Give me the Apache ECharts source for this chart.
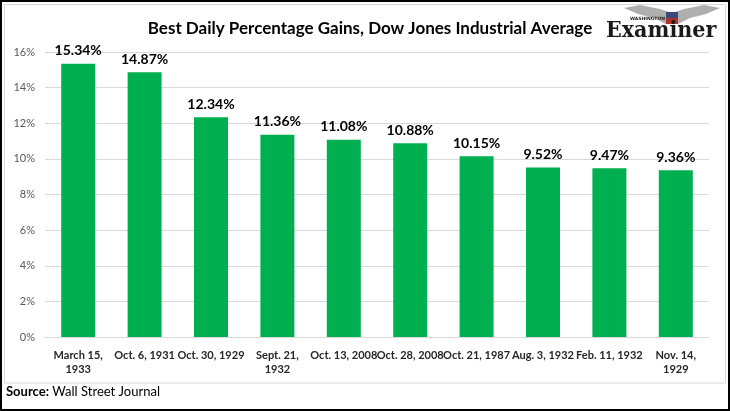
<!DOCTYPE html>
<html><head><meta charset="utf-8">
<script src="https://cdn.jsdelivr.net/npm/echarts@6/dist/echarts.min.js"></script>
<style>html,body{margin:0;padding:0;background:#fff}#c{width:730px;height:411px}</style>
</head><body><div id="c"></div>
<script>
var categories = ['March 15,\n1933','Oct. 6, 1931','Oct. 30, 1929','Sept. 21,\n1932','Oct. 13, 2008','Oct. 28, 2008','Oct. 21, 1987','Aug. 3, 1932','Feb. 11, 1932','Nov. 14,\n1929'];
var gains = [15.34, 14.87, 12.34, 11.36, 11.08, 10.88, 10.15, 9.52, 9.47, 9.36];
var yTicks = [0, 2, 4, 6, 8, 10, 12, 14, 16];
var F = 'Lato, "Open Sans", sans-serif';
var chart = echarts.init(document.getElementById('c'));
chart.setOption({
  animation: false,
  title: {text: 'Best Daily Percentage Gains, Dow Jones Industrial Average', left: 365, textAlign: 'center', top: 15,
    textStyle: {fontFamily: F, fontSize: 17, fontWeight: 'bold', color: '#000'}},
  grid: {left: 45, right: 21, top: 52, bottom: 74},
  xAxis: {type: 'category', data: categories,
    axisLine: {lineStyle: {color: '#d9d9d9'}}, axisTick: {show: false},
    axisLabel: {interval: 0, fontFamily: F, fontSize: 11, fontWeight: 'bold', color: '#262626', lineHeight: 14, margin: 11}},
  yAxis: {type: 'value', min: 0, max: yTicks[yTicks.length - 1], interval: 2,
    axisLabel: {formatter: function(v){return v + '%';}, fontFamily: F, fontSize: 11, color: '#595959', margin: 10},
    splitLine: {lineStyle: {color: '#d9d9d9'}}, axisLine: {show: false}, axisTick: {show: false}},
  series: [{type: 'bar', data: gains, barWidth: 34, itemStyle: {color: '#00B050'},
    label: {show: true, position: 'top', distance: 6, formatter: function(p){return p.value.toFixed(2) + '%';},
      fontFamily: F, fontSize: 14, fontWeight: 'bold', color: '#000'}}],
  graphic: [
    {type: 'rect', shape: {x: 1, y: 1, width: 728, height: 409}, style: {fill: 'none', stroke: '#000', lineWidth: 2}, z: 100},
    {type: 'rect', shape: {x: 4.5, y: 4.5, width: 721, height: 378.5}, style: {fill: 'none', stroke: '#d9d9d9', lineWidth: 1}},
    {type: 'text', left: 6, top: 385, style: {rich: {b: {fontWeight: 'bold', fontSize: 13, fontFamily: F, fill: '#000'}, n: {fontSize: 13, fontFamily: F, fill: '#000'}}, text: '{b|Source:} {n|Wall Street Journal}'}},
    {type: 'polygon', shape: {points: [[624,8],[640,5],[660,9],[672,13],[684,9],[704,5],[720,8],[706,14],[690,18],[678,24],[666,24],[654,18],[638,14]]}, style: {fill: '#8c8c8c', opacity: 0.7}},
    {type: 'rect', shape: {x: 666, y: 12, width: 12, height: 12}, style: {fill: '#3a4a7a'}},
    {type: 'rect', shape: {x: 666, y: 18, width: 12, height: 6}, style: {fill: '#b03030'}},
    {type: 'text', left: 630, top: 16, style: {text: 'WASHINGTON', fontSize: 4.5, fontWeight: 'bold', fontFamily: 'DejaVu Sans', fill: '#222'}},
    {type: 'text', left: 606, top: 20, style: {text: 'Examiner', fontSize: 23, fontWeight: 'bold', fontFamily: '"DejaVu Serif Condensed", "DejaVu Serif", serif', fill: '#1a1a1a'}}
  ]
});
</script></body></html>
